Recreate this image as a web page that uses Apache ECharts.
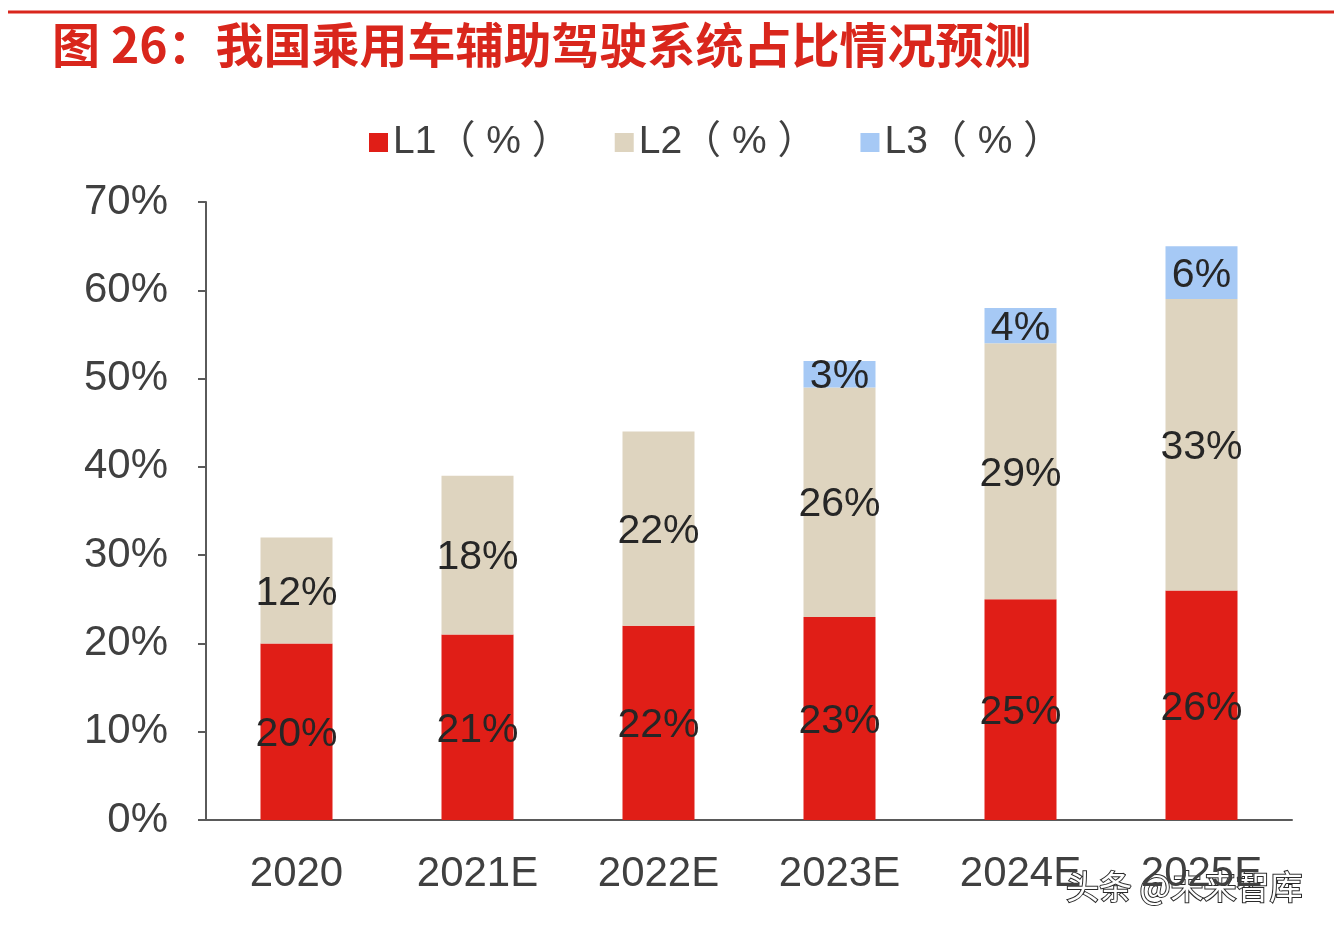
<!DOCTYPE html>
<html>
<head>
<meta charset="utf-8">
<script src="https://cdn.jsdelivr.net/npm/echarts@6/dist/echarts.min.js"></script>
<style>
html,body{margin:0;padding:0;background:#fff;}
#c{width:1334px;height:934px;}
</style>
</head>
<body>
<div id="c"></div>
<script>
const categories = ['2020', '2021E', '2022E', '2023E', '2024E', '2025E'];
const seriesNames = ['L1（ % ）', 'L2（ % ）', 'L3（ % ）'];
const l1 = [20, 21, 22, 23, 25, 26];
const l2 = [12, 18, 22, 26, 29, 33];
const l3 = [0, 0, 0, 3, 4, 6];
const colors = ['#e01e17', '#ded4bf', '#a6c9f5'];
const titleText = '图 26：我国乘用车辅助驾驶系统占比情况预测';
const watermark = '头条 @未来智库';

const chart = echarts.init(document.getElementById('c'));
const fontFam = 'Liberation Sans, Arial, Noto Sans CJK SC, sans-serif';
const labelCfg = {
  show: true,
  position: 'inside',
  color: '#262626',
  fontSize: 41,
  fontFamily: fontFam,
  offset: [0, 3],
  formatter: p => (p.value ? p.value + '%' : '')
};
const dataSets = [l1, l2, l3];
chart.setOption({
  animation: false,
  color: colors,
  textStyle: { fontFamily: fontFam },
  legend: {
    top: 123,
    left: 369,
    padding: 0,
    itemWidth: 19,
    itemHeight: 19,
    itemGap: 44,
    icon: 'rect',
    textStyle: { fontSize: 39, color: '#404040', fontFamily: fontFam },
    data: seriesNames
  },
  grid: { left: 206, right: 42, top: 202, bottom: 114, containLabel: false },
  xAxis: {
    type: 'category',
    data: categories,
    axisLine: { lineStyle: { color: '#5a5a5a', width: 2 } },
    axisTick: { show: false },
    axisLabel: { fontSize: 42, color: '#404040', margin: 33, fontFamily: fontFam }
  },
  yAxis: {
    type: 'value',
    min: 0, max: 70, interval: 10,
    axisLine: { show: true, lineStyle: { color: '#5a5a5a', width: 2 } },
    axisTick: { show: true, length: 8, lineStyle: { color: '#5a5a5a', width: 2 } },
    splitLine: { show: false },
    axisLabel: { fontSize: 42, color: '#404040', margin: 38, formatter: '{value}%', fontFamily: fontFam }
  },
  series: seriesNames.map((n, i) => ({
    name: n,
    type: 'bar',
    stack: 'total',
    barWidth: 72,
    data: dataSets[i],
    label: labelCfg
  })),
  graphic: [
    { type: 'line', shape: { x1: 8, y1: 12, x2: 1334, y2: 12 }, style: { stroke: '#d9261c', lineWidth: 3 } },
    { type: 'text', left: 52, top: 21, style: { text: titleText, fill: '#d9261c', fontSize: 48, fontWeight: 'bold', fontFamily: 'Noto Sans CJK SC, sans-serif' } },
    { type: 'text', left: 1065, top: 869, style: { text: watermark, fill: '#ffffff', stroke: '#2a2a2a', lineWidth: 2, fontSize: 33, fontFamily: 'Noto Sans CJK SC, sans-serif' } }
  ]
});
</script>
</body>
</html>
